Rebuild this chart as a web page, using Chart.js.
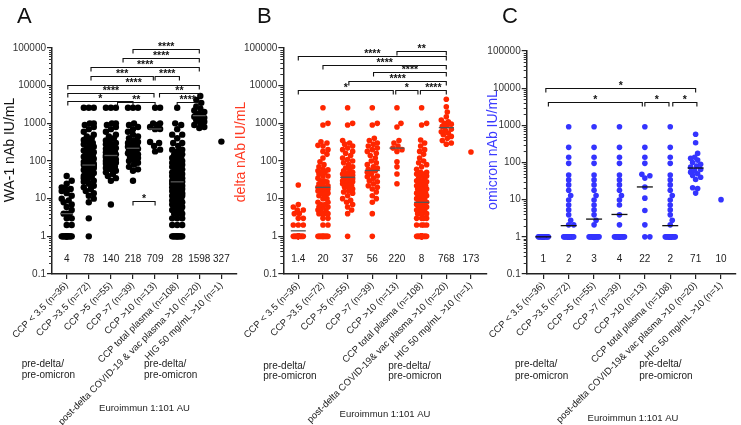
<!DOCTYPE html>
<html>
<head>
<meta charset="utf-8">
<script src="https://cdn.jsdelivr.net/npm/chart.js@4.4.1/dist/chart.umd.min.js"></script>
<style>
  html, body { margin: 0; padding: 0; background: #fff; }
  #wrap { position: relative; width: 741px; height: 425px; overflow: hidden; }
  .panel { position: absolute; top: 0; height: 425px; }
</style>
</head>
<body>
<div id="wrap">
  <div class="panel" style="left:0px"><canvas id="chartA" width="250" height="425"></canvas></div>
  <div class="panel" style="left:230px"><canvas id="chartB" width="262" height="425"></canvas></div>
  <div class="panel" style="left:483px"><canvas id="chartC" width="258" height="425"></canvas></div>
</div>
<script>
// ---- categories ----
const catsA = ["CCP < 3.5 (n=36)", "CCP >3.5 (n=72)", "CCP >5 (n=55)", "CCP >7 (n=39)", "CCP >10 (n=13)",
  "CCP total plasma (n=108)", "post-delta COVID-19 & vac plasma >10 (n=20)", "HIG 50 mg/mL >10 (n=1)"];
const catsBC = ["CCP < 3.5 (n=36)", "CCP >3.5 (n=72)", "CCP >5 (n=55)", "CCP >7 (n=39)", "CCP >10 (n=13)",
  "CCP total plasma (n=108)", "post-delta COVID-19& vac plasma >10 (n=20)", "HIG 50 mg/mL >10 (n=1)"];
const yTicks = [0.1, 1, 10, 100, 1000, 10000, 100000];

// ---- A: WA-1 nAb IU/mL ----
const wa1Values = [
  [1,1,1,1,1,1,1,1,1,1,1,1,1,1,2,2,3,3,4,4,4,5,6,7,8,9,10,12,14,16,18,18,20,25,30,40],
  [1,3,8,10,12,14,16,18,20,22,25,28,30,32,35,38,40,40,45,48,50,52,55,58,60,62,65,68,70,72,75,78,78,80,82,85,
   88,90,95,100,105,110,115,120,125,130,140,150,160,170,180,190,200,220,240,260,280,300,330,360,400,450,500,
   600,700,800,900,1000,1000,2600,2600,2600],
  [7,30,35,40,45,50,55,60,65,70,75,80,85,90,95,100,100,110,115,120,125,130,135,140,140,145,150,160,170,180,
   190,200,210,220,240,260,280,300,320,350,400,450,500,600,700,800,900,1000,1000,2600,2600,2600,150,130,90],
  [30,55,60,70,80,90,100,110,120,130,140,150,160,170,180,190,200,210,218,220,230,240,250,260,280,300,320,350,
   400,450,500,600,700,800,900,1000,2600,2600,2600],
  [180,200,250,300,320,700,709,800,900,1000,1000,2600,2600],
  [1,1,1,1,1,1,1,1,1,1,1,1,2,2,2,3,3,3,4,4,4,5,5,5,6,6,6,7,7,8,8,8,9,9,
   10,10,10,12,12,12,14,14,14,16,16,16,18,18,18,20,20,20,22,22,22,25,25,25,28,28,28,30,30,30,35,35,35,40,40,40,
   45,45,45,50,50,50,60,60,60,70,70,70,80,80,90,90,100,100,100,120,120,120,150,150,150,180,200,200,250,300,300,
   400,500,500,700,900,1000,2600],
  [750,800,900,1000,1100,1200,1300,1400,1500,1550,1650,1700,1800,2000,2200,2500,2800,3500,4200,5300],
  [327]
];
const wa1Medians = [4, 78, 140, 218, 709, 28, 1598, 327];
// [from group, to group, level, label]
const wa1Brackets = [
  [3, 6, 92000, "****"], [2.55, 6, 53100, "****"], [1.1, 6, 30600, "****"],
  [1.1, 3.92, 18300, "***"], [4.0, 5.1, 18300, "****"],
  [0.05, 6, 10400, "****"], [0.05, 3.95, 6490, "****"], [4.2, 6, 6490, "**"],
  [0.05, 3, 3980, "*"], [2.3, 4.0, 3660, "**"], [5.0, 5.95, 3660, "****"],
  [3, 4, 8.9, "*"]
];

// ---- B: delta nAb IU/mL ----
const deltaValues = [
  [1,1,1,1,1,1,1,1,1,1,1,1,1,1,1,1,1,1,1,1,1,1,1,1,2,2,2,3,3,4,4,5,5,6,7,23],
  [1,1,1,1,1,1,1,1,1,1,1,1,2,2,3,3,4,4,4,4,5,5,5,6,6,6,7,7,8,8,10,10,12,12,14,14,16,16,18,18,20,20,20,22,
   25,25,28,30,30,35,40,40,45,50,50,55,58,60,70,80,95,120,150,180,200,250,260,300,325,900,1000,2600],
  [1,4,5,6,7,8,9,10,12,14,15,16,18,20,20,22,24,25,26,28,30,30,32,34,35,36,37,38,40,42,45,45,48,50,55,60,65,
   70,80,90,100,110,120,140,160,180,200,220,250,280,300,350,900,1000,2600],
  [1,4,8,10,12,15,18,20,22,25,28,30,35,38,40,45,50,55,56,60,65,70,80,90,100,120,140,160,180,200,220,250,280,
   300,350,400,900,1000,2600],
  [25,45,70,95,180,200,220,250,300,350,800,1000,2600],
  [1,1,1,1,1,1,1,1,1,1,1,1,1,1,1,1,1,1,1,1,1,1,1,1,1,1,1,1,1,1,1,1,1,2,2,2,2,3,3,3,3,4,4,4,4,5,5,5,5,6,6,6,
   7,7,7,8,8,8,8,10,10,10,10,12,12,12,12,14,14,14,14,16,16,18,18,20,20,22,22,25,25,28,28,30,30,35,35,40,40,
   45,45,50,50,60,70,80,90,100,120,150,180,200,250,300,360,900,1000,2600],
  [280,300,350,400,450,500,550,600,650,700,830,900,950,1000,1100,1230,1500,2000,2760,4370],
  [173]
];
const deltaMedians = [1.4, 20, 37, 56, 220, 8, 768, 173];
const deltaBrackets = [
  [4, 6, 84800, "**"], [0, 6, 59500, "****"], [1, 6, 35400, "****"], [3.05, 6, 22400, "****"],
  [2.05, 6, 13300, "****"], [0, 3.85, 7780, "*"], [3.95, 4.85, 7780, "*"], [4.95, 6, 7780, "****"]
];

// ---- C: omicron nAb IU/mL ----
const omicronValues = [
  [1,1,1,1,1,1,1,1,1,1,1,1,1,1,1,1,1,1,1,1,1,1,1,1,1,1,1,1,1,1,1,1,1,1,1,1],
  [1,1,1,1,1,1,1,1,1,1,1,1,1,1,1,1,1,1,1,1,1,1,1,1,1,1,1,1,1,1,1,1,1,1,1,1,1,1,1,1,1,1,1,1,1,1,1,1,1,1,1,1,
   1,1,1,1,2.1,2.1,2.8,3.9,5.3,7.2,9.8,13,18,25,34,46,95,138,256,920],
  [1,1,1,1,1,1,1,1,1,1,1,1,1,1,1,1,1,1,1,1,1,1,1,1,1,1,1,1,1,1,1,1,1,1,1,1,1,1,1,1,
   2.1,2.8,3.9,5.3,7.2,9.8,13,18,25,34,46,95,138,256,920],
  [1,1,1,1,1,1,1,1,1,1,1,1,1,1,1,1,1,1,1,1,1,1,1,1,1,1,2.1,3.9,7.2,9.8,13,18,25,34,46,95,138,256,920],
  [1,1,2.1,5.1,11,22,38,44,48,95,138,256,920],
  [1,1,1,1,1,1,1,1,1,1,1,1,1,1,1,1,1,1,1,1,1,1,1,1,1,1,1,1,1,1,1,1,1,1,1,1,1,1,1,1,1,1,1,1,1,1,1,1,1,1,
   1,1,1,1,1,1,1,1,1,1,1,1,1,1,1,1,1,1,1,1,1,1,1,1,1,1,1,1,1,1,1,1,1,1,1,1,1,1,1,1,1,1,1,
   2.1,2.8,3.9,5.3,7.2,9.8,13,18,25,34,46,95,138,256,920],
  [15,20,21,35,40,45,50,55,60,65,75,80,90,100,116,130,138,176,340,573],
  [10]
];
const omicronMedians = [1, 2, 3, 4, 22, 2, 71, 10];
const omicronBrackets = [
  [0.1, 6, 9890, "*"], [0.2, 3.9, 4310, "*"], [4.0, 4.95, 4310, "*"], [5.1, 6.05, 4310, "*"]
];

Chart.defaults.font.family = 'Arial, "Liberation Sans", Helvetica, sans-serif';
const FONT = 'Arial, "Liberation Sans", Helvetica, sans-serif';

const panels = [
  { id: "chartA", letter: "A", letterX: 17, cats: catsA, values: wa1Values, medians: wa1Medians,
    brackets: wa1Brackets, color: "#000000", radius: 3.2, spread: 5, medianColor: "#555", medianHalf: 6.5,
    title: "WA-1 nAb IU/mL", titleColor: "#111", titleX: 10, titleY: 150,
    xMin: -0.665, xMax: 7.706, yAxisWidth: 52, padTop: 48, padRight: 13,
    footX: [21.7, 144], footY: [367, 378], euroX: 144.5, euroY: 411 },
  { id: "chartB", letter: "B", letterX: 27, cats: catsBC, values: deltaValues, medians: deltaMedians,
    brackets: deltaBrackets, color: "#ff2600", radius: 2.8, spread: 5, medianColor: "#555", medianHalf: 7.5,
    title: "delta nAb IU/mL", titleColor: "#ff3a22", titleX: 11, titleY: 152,
    xMin: -0.608, xMax: 7.65, yAxisWidth: 53.3, padTop: 48, padRight: 5,
    footX: [33.3, 158.3], footY: [369, 379], euroX: 155, euroY: 417 },
  { id: "chartC", letter: "C", letterX: 19, cats: catsBC, values: omicronValues, medians: omicronMedians,
    brackets: omicronBrackets, color: "#3434ff", radius: 2.8, spread: 5.5, medianColor: "#111", medianHalf: 8,
    title: "omicron nAb IU/mL", titleColor: "#3b3bff", titleX: 10, titleY: 150,
    xMin: -0.654, xMax: 7.59, yAxisWidth: 43.7, padTop: 51, padRight: 5,
    footX: [32, 156.3], footY: [367, 379], euroX: 150, euroY: 421 }
];

function decor(p) {
  return {
    id: "decor",
    afterDraw(chart) {
      const ctx = chart.ctx;
      const xs = chart.scales.x, ys = chart.scales.y;
      const left = chart.chartArea.left;
      ctx.save();

      // minor ticks on the log axis
      ctx.strokeStyle = "#333";
      ctx.lineWidth = 1;
      for (let e = -1; e < 5; e++) {
        for (let k = 2; k < 10; k++) {
          const y = Math.round(ys.getPixelForValue(k * Math.pow(10, e))) + 0.5;
          ctx.beginPath(); ctx.moveTo(left - 3, y); ctx.lineTo(left, y); ctx.stroke();
        }
      }

      // median lines
      ctx.strokeStyle = p.medianColor;
      ctx.lineWidth = 1.3;
      p.medians.forEach((m, i) => {
        if (p.values[i].length < 2) return;
        const x = xs.getPixelForValue(i), y = ys.getPixelForValue(m);
        ctx.beginPath(); ctx.moveTo(x - p.medianHalf, y); ctx.lineTo(x + p.medianHalf, y); ctx.stroke();
      });

      // median values row
      ctx.fillStyle = "#222";
      ctx.font = "10px " + FONT;
      ctx.textAlign = "center";
      ctx.textBaseline = "middle";
      p.medians.forEach((m, i) => {
        ctx.fillText(String(m), xs.getPixelForValue(i), ys.getPixelForValue(0.25));
      });

      // significance brackets
      ctx.strokeStyle = "#111";
      ctx.fillStyle = "#111";
      ctx.lineWidth = 1.1;
      ctx.font = "bold 10.5px " + FONT;
      ctx.textBaseline = "alphabetic";
      p.brackets.forEach(([a, b, v, label]) => {
        const x1 = xs.getPixelForValue(a), x2 = xs.getPixelForValue(b);
        const y = Math.round(ys.getPixelForValue(v)) + 0.5;
        ctx.beginPath();
        ctx.moveTo(x1, y + 4); ctx.lineTo(x1, y); ctx.lineTo(x2, y); ctx.lineTo(x2, y + 4);
        ctx.stroke();
        ctx.fillText(label, (x1 + x2) / 2, y);
      });

      // panel letter
      ctx.fillStyle = "#111";
      ctx.font = "22px " + FONT;
      ctx.textAlign = "left";
      ctx.fillText(p.letter, p.letterX, 23);

      // y title
      ctx.save();
      ctx.translate(p.titleX, p.titleY);
      ctx.rotate(-Math.PI / 2);
      ctx.fillStyle = p.titleColor;
      ctx.font = "14px " + FONT;
      ctx.textAlign = "center";
      ctx.textBaseline = "middle";
      ctx.fillText(p.title, 0, 0);
      ctx.restore();

      // footer texts
      ctx.fillStyle = "#222";
      ctx.font = "10px " + FONT;
      ctx.textAlign = "left";
      p.footX.forEach(x => {
        ctx.fillText("pre-delta/", x, p.footY[0]);
        ctx.fillText("pre-omicron", x, p.footY[1]);
      });
      ctx.textAlign = "center";
      ctx.font = "9.5px " + FONT;
      ctx.fillText("Euroimmun 1:101 AU", p.euroX, p.euroY);
      ctx.restore();
    }
  };
}

// spread equal-ish values sideways like a dot plot
function swarm(chart, p) {
  const xs = chart.scales.x, ys = chart.scales.y;
  const unit = xs.getPixelForValue(1) - xs.getPixelForValue(0);
  const gap = p.radius * 1.7;
  chart.data.datasets.forEach((ds, i) => {
    const placed = [];
    const sorted = p.values[i].slice().sort((a, b) => a - b);
    ds.data = sorted.map(v => {
      const y = ys.getPixelForValue(v);
      let best = 0, bestScore = -1;
      for (let k = 0; k <= 2 * Math.floor(p.spread); k++) {
        const dx = (k % 2 ? 1 : -1) * Math.ceil(k / 2);
        let d = Infinity;
        placed.forEach(q => { d = Math.min(d, Math.hypot(q.dx - dx, q.y - y)); });
        if (d >= gap) { best = dx; break; }
        if (d > bestScore) { bestScore = d; best = dx; }
      }
      placed.push({ dx: best, y });
      return { x: i + best / unit, y: v };
    });
  });
  chart.update("none");
}

panels.forEach(p => {
  const datasets = p.values.map((vals, i) => ({
    data: vals.map(v => ({ x: i, y: v })),
    backgroundColor: p.color,
    borderWidth: 0,
    pointRadius: p.radius,
    pointHoverRadius: p.radius
  }));
  const axisGrid = { display: true, drawOnChartArea: false, drawTicks: true, tickLength: 5, color: "#222", lineWidth: 1.2 };
  const chart = new Chart(document.getElementById(p.id), {
    type: "scatter",
    data: { datasets },
    options: {
      responsive: false,
      animation: false,
      events: [],
      layout: { padding: { left: 0, right: p.padRight, top: p.padTop, bottom: 0 } },
      plugins: { legend: { display: false }, tooltip: { enabled: false } },
      scales: {
        x: {
          type: "linear", min: p.xMin, max: p.xMax,
          afterBuildTicks: s => { s.ticks = p.cats.map((c, i) => ({ value: i })); },
          afterFit: s => { s.height = 151; s.paddingLeft = 0; s.paddingRight = 0; },
          ticks: { autoSkip: false, minRotation: 45, maxRotation: 45, padding: 1, color: "#222",
                   font: { size: 9.5 }, callback: v => p.cats[v] },
          grid: axisGrid,
          border: { display: true, color: "#222", width: 1.5 }
        },
        y: {
          type: "logarithmic", min: 0.1, max: 100000,
          afterBuildTicks: s => { s.ticks = yTicks.map(v => ({ value: v })); },
          afterFit: s => { s.width = p.yAxisWidth; s.paddingTop = 0; s.paddingBottom = 0; },
          ticks: { padding: 1, color: "#333", font: { size: 10 }, callback: v => String(v) },
          grid: axisGrid,
          border: { display: true, color: "#222", width: 1.5 }
        }
      }
    },
    plugins: [decor(p)]
  });
  swarm(chart, p);
});
</script>
</body>
</html>
